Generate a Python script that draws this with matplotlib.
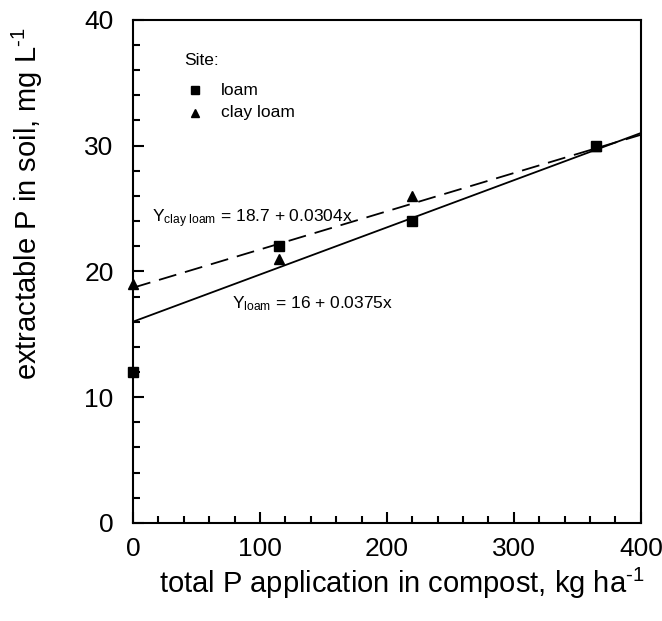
import matplotlib
matplotlib.use("Agg")
import matplotlib.pyplot as plt
import numpy as np

base = 'Liberation Sans'
plt.rcParams['font.family'] = [base, 'DejaVu Sans']
plt.rcParams['mathtext.fontset'] = 'custom'
plt.rcParams['mathtext.rm'] = base
plt.rcParams['mathtext.it'] = base
plt.rcParams['axes.unicode_minus'] = False

loam_x = [0, 115, 220, 365]
loam_y = [12, 22, 24, 30]
clay_x = [0, 115, 220, 365]
clay_y = [19, 21, 26, 30]
loam_fit = (16.0, 0.0375)
clay_fit = (18.7, 0.0304)

fig = plt.figure(figsize=(6.62, 6.21), dpi=100)
ax = fig.add_axes([0.201, 0.158, 0.767, 0.810])

xf = np.array([0, 400])
ax.plot(xf, loam_fit[0] + loam_fit[1] * xf, color='black', lw=1.3)
ax.plot(xf, clay_fit[0] + clay_fit[1] * xf, color='black', lw=1.3, dashes=(10, 5))

ax.plot(clay_x, clay_y, '^', color='black', ms=7, clip_on=False, zorder=5)
ax.plot(loam_x, loam_y, 's', color='black', ms=7, clip_on=False, zorder=5)

ax.set_xlim(0, 400)
ax.set_ylim(0, 40)
ax.set_xticks([0, 100, 200, 300, 400])
ax.set_yticks([0, 10, 20, 30, 40])
ax.set_xticks(np.arange(0, 401, 20), minor=True)
ax.set_yticks(np.arange(0, 41, 2), minor=True)
ax.tick_params(which='both', direction='in', width=1.5, labelsize=19)
ax.tick_params(axis='x', pad=10)
ax.tick_params(axis='y', pad=14)
ax.tick_params(which='major', length=8)
ax.tick_params(which='minor', length=5)
for s in ax.spines.values():
    s.set_linewidth(1.5)

sup = '$^{\\mathrm{\u2010}\\mathrm{1}}$'
ax.set_xlabel('total P application in compost, kg ha' + sup, fontsize=21)
ax.set_ylabel('extractable P in soil, mg L' + sup, fontsize=21)
ax.xaxis.set_label_coords(0.529, -0.086)
ax.yaxis.set_label_coords(-0.174, 0.634)

# legend
ax.text(40, 36.8, 'Site:', fontsize=12.5, ha='left', va='center')
ax.plot([49], [34.4], 's', color='black', ms=6)
ax.text(69, 34.4, 'loam', fontsize=12.5, ha='left', va='center')
ax.plot([49], [32.6], '^', color='black', ms=6)
ax.text(69, 32.6, 'clay loam', fontsize=12.5, ha='left', va='center')

ax.text(15, 24.2, r'Y$_{\mathrm{clay\ loam}}$ = 18.7 + 0.0304x', fontsize=12.5, ha='left', va='center')
ax.text(78, 17.4, r'Y$_{\mathrm{loam}}$ = 16 + 0.0375x', fontsize=12.5, ha='left', va='center')

fig.savefig('out.png', dpi=100)
